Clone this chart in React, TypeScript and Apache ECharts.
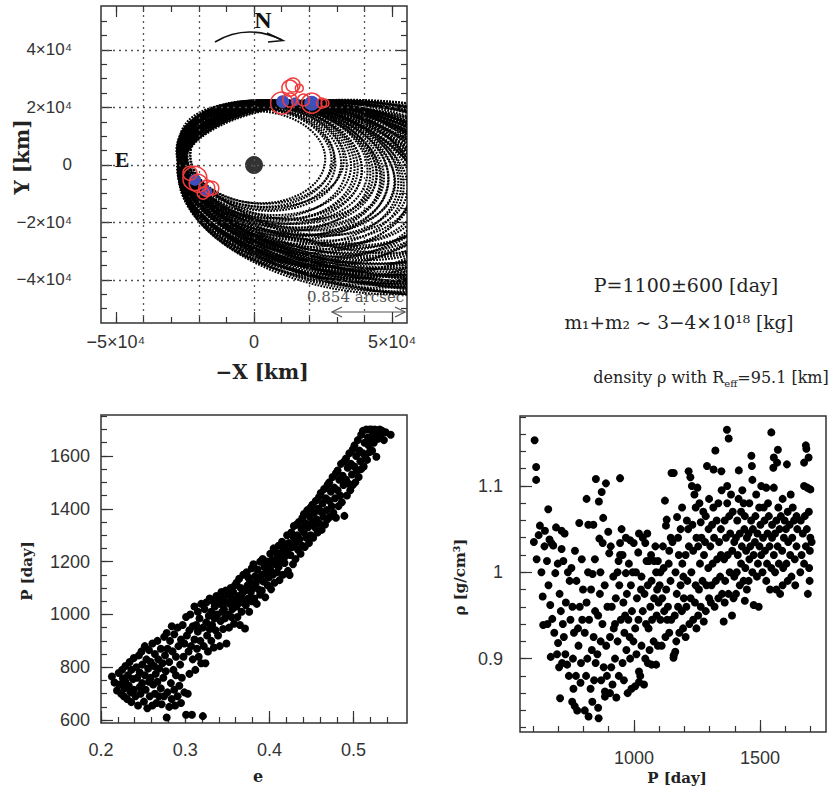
import React, { useEffect, useRef } from "react";
import * as echarts from "echarts";

// ---------- top panel: orbit solutions, [cx, cy, a, b, tiltDeg] in units of 1e4 km ----------
const orbits = [
  [0.13, 0.27, 2.45, 1.6, -3], [0.3, 0.3, 2.6, 1.65, -2], [0.2, 0.25, 2.61, 1.7, -4],
  [0.35, 0.2, 2.81, 1.79, -5], [0.45, 0.1, 2.91, 1.94, -4], [0.5, 0.15, 3.02, 1.88, -6],
  [0.6, 0.1, 3.17, 1.98, -7], [0.7, 0.0, 3.21, 2.04, -5], [0.75, 0.05, 3.38, 2.07, -8],
  [0.9, 0.0, 3.56, 2.15, -9], [0.95, 0.1, 3.54, 1.94, -11], [1.0, -0.2, 3.59, 2.27, -8],
  [1.05, -0.05, 3.69, 2.17, -10], [1.15, -0.25, 3.72, 2.33, -6], [1.2, -0.1, 3.93, 2.26, -11],
  [1.25, -0.05, 3.93, 2.12, -13], [1.35, -0.15, 4.04, 2.24, -12], [1.4, -0.35, 4.05, 2.45, -9],
  [1.5, -0.2, 4.29, 2.31, -13], [1.6, -0.4, 4.23, 2.52, -7], [1.65, -0.3, 4.4, 2.33, -14],
  [1.8, -0.35, 4.66, 2.41, -15], [1.9, -0.5, 4.6, 2.62, -10], [2.0, -0.45, 4.84, 2.41, -16],
  [2.0, -0.3, 4.76, 2.33, -14], [2.1, -0.6, 4.75, 2.75, -8], [2.2, -0.55, 5.12, 2.47, -17],
  [2.3, -0.75, 4.99, 2.84, -11], [2.4, -0.6, 5.33, 2.58, -16], [2.5, -0.5, 5.23, 2.59, -12],
  [2.6, -0.7, 5.54, 2.58, -17], [2.7, -0.7, 5.42, 2.83, -9], [2.8, -0.95, 5.57, 2.99, -12],
  [2.9, -0.8, 5.91, 2.65, -17], [3.0, -0.6, 5.7, 2.67, -11], [3.2, -0.85, 6.2, 2.66, -17],
  [3.3, -1.1, 6.11, 3.14, -12], [3.4, -0.8, 6.1, 2.97, -7], [3.5, -0.7, 6.24, 2.8, -10],
  [3.6, -1.15, 6.49, 3.05, -14], [3.8, -1.0, 6.71, 2.76, -15], [4.0, -0.8, 6.7, 2.9, -9],
  [4.0, -0.95, 6.74, 3.14, -6], [4.2, -1.1, 7.08, 2.97, -13], [4.5, -0.85, 7.22, 2.97, -8],
  [4.8, -1.1, 7.59, 3.1, -10], [5.0, -0.9, 7.7, 3.0, -8], [5.5, -1.0, 8.16, 3.12, -7],
  [0.25, 0.22, 2.7, 1.75, -6], [0.4, 0.25, 2.85, 1.72, -3], [0.55, 0.05, 3.1, 2.0, -5],
  [0.65, 0.12, 3.28, 1.95, -9], [0.8, -0.1, 3.42, 2.2, -6], [0.85, 0.05, 3.5, 2.05, -10],
  [1.0, 0.0, 3.68, 2.1, -12], [1.1, -0.15, 3.8, 2.25, -9], [1.3, -0.3, 3.95, 2.42, -8],
  [1.45, -0.1, 4.2, 2.2, -14], [1.55, -0.45, 4.18, 2.6, -6], [1.7, -0.25, 4.5, 2.28, -16],
  [1.75, -0.55, 4.45, 2.7, -9], [1.85, -0.32, 4.68, 2.3, -17], [1.95, -0.65, 4.62, 2.85, -7],
  [2.05, -0.4, 4.85, 2.5, -13], [2.15, -0.8, 4.85, 2.95, -9], [2.25, -0.48, 5.1, 2.45, -15],
  [2.35, -0.9, 5.05, 3.0, -10], [2.45, -0.45, 5.35, 2.2, -18], [2.55, -0.85, 5.3, 2.95, -12],
  [2.65, -0.62, 5.55, 2.6, -14], [2.75, -1.0, 5.5, 3.05, -11], [2.85, -0.68, 5.75, 2.6, -15],
  [2.95, -1.05, 5.8, 3.05, -13], [3.1, -0.75, 5.95, 2.75, -13], [3.25, -1.0, 6.05, 3.0, -10],
  [3.35, -0.95, 6.3, 2.75, -16], [3.45, -1.2, 6.25, 3.15, -11], [3.55, -0.9, 6.35, 2.9, -8],
  [3.7, -1.1, 6.6, 2.95, -12], [3.9, -0.85, 6.6, 2.95, -7], [4.1, -1.2, 6.95, 3.05, -11],
  [4.3, -0.95, 7.0, 3.0, -7], [4.4, -1.05, 7.2, 3.05, -9], [4.6, -1.2, 7.45, 3.15, -11],
  [4.7, -0.95, 7.4, 3.05, -6], [5.2, -1.05, 7.95, 3.1, -9], [5.8, -1.1, 8.5, 3.2, -8],
];
const primary = [[0, 0]];
// observed positions [x, y] in 1e4 km, with marker size
const bluePts = [[1.04, 2.2, 13], [1.49, 2.2, 9], [2.09, 2.15, 15], [-2.14, -0.52, 12], [-1.71, -0.93, 11]];
const redPts = [
  [1.0, 2.15, 22], [1.3, 2.67, 16], [1.41, 2.78, 14], [1.64, 2.67, 8], [1.3, 2.26, 14],
  [1.79, 2.26, 12], [2.09, 2.15, 20], [2.45, 2.15, 10], [2.57, 2.15, 8],
  [-2.14, -0.47, 24], [-2.02, -0.64, 18], [-1.71, -0.81, 16], [-1.53, -0.81, 14],
  [-1.84, -0.98, 12], [-2.32, -0.29, 14],
];
const gridX = [-40000, -20000, 0, 20000, 40000];
const gridY = [-40000, -20000, 0, 20000, 40000];
const topXMinor = [-50000, -40000, -30000, -20000, -10000, 0, 10000, 20000, 30000, 40000, 50000];
const topXMajor = [-50000, 0, 50000];
const topYMinor = [-50000, -45000, -40000, -35000, -30000, -25000, -20000, -15000, -10000, -5000, 0,
  5000, 10000, 15000, 20000, 25000, 30000, 35000, 40000, 45000, 50000];
const topYMajor = [-40000, -20000, 0, 20000, 40000];

// ---------- bottom-left: e vs P ----------
const eP = [
  [0.213,765],[0.216,742],[0.219,712],[0.221,778],
  [0.222,735],[0.224,700],[0.225,790],[0.226,758],[0.227,690],[0.228,720],[0.229,805],[0.229,745],
  [0.231,680],[0.232,770],[0.233,730],[0.234,820],[0.235,705],[0.236,790],[0.236,668],[0.238,755],[0.239,835],[0.239,715],
  [0.241,690],[0.242,800],[0.243,760],[0.244,655],[0.245,845],[0.246,725],[0.246,780],[0.247,700],[0.248,860],[0.249,740],[0.249,810],
  [0.251,670],[0.252,770],[0.252,880],[0.253,715],[0.254,830],[0.255,645],[0.256,795],[0.257,745],[0.257,865],[0.258,690],[0.259,820],[0.259,760],
  [0.261,655],[0.261,890],[0.262,735],[0.263,805],[0.264,700],[0.264,850],[0.265,775],[0.266,665],[0.267,900],[0.267,745],[0.268,830],[0.269,690],[0.269,795],
  [0.271,720],[0.271,870],[0.272,660],[0.273,815],[0.274,760],[0.275,915],[0.275,690],[0.276,845],[0.277,785],[0.278,610],[0.278,930],[0.279,705],[0.279,870],
  [0.281,650],[0.281,820],[0.282,900],[0.283,740],[0.284,955],[0.284,680],[0.285,860],[0.286,790],[0.287,715],[0.287,925],[0.288,655],[0.289,840],[0.289,770],
  [0.291,690],[0.291,950],[0.292,880],[0.293,730],[0.294,810],[0.295,905],[0.295,665],[0.296,760],[0.297,960],[0.298,840],[0.299,705],[0.299,890],
  [0.301,620],[0.301,990],[0.302,920],[0.303,700],[0.304,860],[0.305,940],[0.305,775],[0.306,1000],[0.307,880],[0.308,620],[0.309,955],[0.309,830],
  [0.311,905],[0.311,1030],[0.312,790],[0.313,960],[0.314,870],[0.315,1010],[0.315,935],[0.316,840],[0.317,985],[0.318,900],[0.319,1040],[0.319,815],
  [0.321,615],[0.321,950],[0.322,880],[0.323,1020],[0.324,815],[0.325,970],[0.325,1045],[0.326,920],[0.327,860],[0.328,995],[0.329,945],[0.329,1060],
  [0.331,900],[0.331,1010],[0.332,960],[0.333,1050],[0.334,875],[0.335,985],[0.335,1030],[0.336,940],[0.337,1070],[0.338,1000],[0.339,920],[0.339,1060],
  [0.341,880],[0.341,1040],[0.342,975],[0.343,1085],[0.344,1010],[0.345,945],[0.345,1060],[0.346,1020],[0.347,985],[0.348,1090],[0.349,890],[0.349,1045],
  [0.351,1000],[0.351,1075],[0.352,950],[0.353,1040],[0.354,1100],[0.355,990],[0.355,1060],[0.356,1020],[0.357,1085],[0.358,965],[0.359,1050],[0.359,1110],
  [0.361,1030],[0.361,1120],[0.362,990],[0.363,1070],[0.364,1135],[0.365,1045],[0.365,960],[0.366,1100],[0.367,1010],[0.368,1080],[0.369,1150],[0.369,1055],
  [0.371,1090],[0.371,947],[0.372,1035],[0.373,1160],[0.374,1110],[0.375,1060],[0.375,1140],[0.376,1010],[0.377,1125],[0.378,1085],[0.379,1175],[0.379,1050],
  [0.381,1100],[0.381,1190],[0.382,1060],[0.383,1145],[0.384,1120],[0.385,1040],[0.386,1170],[0.387,1095],[0.388,1135],[0.389,1200],[0.389,1075],
  [0.391,1150],[0.391,1090],[0.392,1210],[0.393,1125],[0.394,1180],[0.395,1065],[0.396,1160],[0.397,1200],[0.398,1110],[0.399,1185],[0.399,1140],
  [0.401,1170],[0.401,1230],[0.402,1095],[0.403,1205],[0.404,1150],[0.405,1250],[0.406,1120],[0.407,1190],[0.408,1235],[0.409,1160],[0.409,1215],
  [0.411,1180],[0.411,1260],[0.412,1130],[0.413,1230],[0.414,1205],[0.415,1275],[0.416,1150],[0.417,1245],[0.418,1195],[0.419,1265],[0.419,1220],
  [0.421,1240],[0.421,1300],[0.422,1165],[0.423,1270],[0.424,1149],[0.425,1225],[0.426,1310],[0.427,1255],[0.428,1190],[0.429,1290],[0.429,1335],
  [0.431,1270],[0.431,1210],[0.432,1340],[0.433,1300],[0.434,1245],[0.435,1350],[0.436,1285],[0.437,1230],[0.438,1325],[0.439,1365],[0.439,1260],
  [0.441,1310],[0.441,1380],[0.442,1255],[0.443,1345],[0.444,1290],[0.445,1395],[0.446,1330],[0.447,1270],[0.448,1370],[0.449,1405],[0.449,1300],
  [0.451,1350],[0.451,1415],[0.452,1290],[0.453,1385],[0.454,1330],[0.455,1430],[0.456,1360],[0.457,1310],[0.458,1400],[0.459,1445],[0.459,1345],
  [0.461,1390],[0.461,1460],[0.462,1320],[0.463,1420],[0.464,1370],[0.465,1475],[0.466,1340],[0.467,1440],[0.468,1395],[0.469,1490],[0.469,1360],
  [0.471,1430],[0.471,1500],[0.472,1370],[0.473,1465],[0.474,1410],[0.475,1520],[0.476,1385],[0.477,1480],[0.478,1440],[0.479,1535],[0.479,1366],
  [0.481,1470],[0.481,1545],[0.482,1410],[0.483,1510],[0.484,1450],[0.485,1570],[0.486,1425],[0.487,1525],[0.488,1490],[0.489,1580],[0.489,1373],
  [0.491,1510],[0.491,1590],[0.492,1450],[0.493,1555],[0.494,1495],[0.495,1610],[0.496,1470],[0.497,1570],[0.498,1530],[0.499,1625],[0.499,1490],
  [0.501,1560],[0.501,1640],[0.502,1500],[0.503,1600],[0.504,1545],[0.505,1660],[0.506,1520],[0.507,1620],[0.508,1580],[0.509,1680],[0.509,1550],
  [0.511,1610],[0.511,1695],[0.512,1560],[0.513,1650],[0.514,1600],[0.515,1700],[0.516,1585],[0.517,1670],[0.518,1640],[0.519,1700],[0.519,1615],
  [0.521,1660],[0.521,1700],[0.522,1620],[0.523,1690],[0.524,1650],[0.525,1700],[0.526,1675],[0.527,1597],[0.528,1695],[0.529,1665],
  [0.531,1700],[0.532,1680],[0.534,1695],[0.536,1660],[0.538,1690],[0.544,1680],
];
const eMinor = [0.2,0.22,0.24,0.26,0.28,0.3,0.32,0.34,0.36,0.38,0.4,0.42,0.44,0.46,0.48,0.5,0.52,0.54];
const eMajor = [0.2, 0.3, 0.4, 0.5];
const pMinor = [600,650,700,750,800,850,900,950,1000,1050,1100,1150,1200,1250,1300,1350,1400,1450,1500,1550,1600,1650,1700,1750];
const pMajor = [600, 800, 1000, 1200, 1400, 1600];

// ---------- bottom-right: P vs density ----------
const rhoP = [
  [606,1.153],[612,1.122],[612,1.107],[603,1.035],[614,1.015],[627,1.054],[647,1.048],[640,0.939],[633,1.0],[645,1.03],[622,1.043],[638,0.972],
  [660,1.073],[655,1.013],[665,1.038],[672,1.034],[680,1.031],[688,0.999],[691,1.052],[661,0.985],[668,0.962],[676,0.946],[684,0.93],[695,0.905],[699,0.918],[657,0.94],[698,1.01],[670,0.902],
  [707,0.854],[713,1.048],[713,1.027],[720,1.013],[705,0.975],[710,0.955],[718,0.94],[722,0.925],[728,0.905],[735,0.893],[703,0.89],[742,0.88],[730,0.965],[745,0.99],[738,1.0],[715,0.895],[748,0.945],[725,1.045],
  [760,0.865],[755,0.85],[765,0.845],[775,0.84],[783,1.057],[770,0.88],[758,0.9],[780,0.915],[790,0.895],[762,0.93],[785,0.96],[795,0.945],[772,0.99],[752,1.005],[798,0.98],[788,0.872],[766,1.025],[793,1.015],[778,0.935],[756,0.96],
  [812,1.085],[819,1.055],[839,1.055],[845,1.015],[849,1.108],[805,0.84],[820,0.833],[835,0.85],[810,0.88],[828,0.865],[842,0.875],[815,0.9],[833,0.91],[848,0.895],[805,0.93],[822,0.945],[840,0.925],[812,0.965],[830,0.98],[846,0.955],[818,1.0],[836,0.998],
  [861,1.082],[872,1.093],[878,1.063],[889,1.103],[863,1.039],[876,1.034],[898,1.047],[902,1.022],[867,1.0],[860,0.831],[858,0.843],[885,0.862],[885,0.856],[870,0.875],[880,0.89],[893,0.88],[855,0.905],[868,0.92],[890,0.915],[858,0.95],[875,0.94],[895,0.96],[865,0.975],[884,0.985],
  [945,1.109],[951,1.05],[945,1.034],[939,1.013],[945,1.02],[905,0.86],[915,0.87],[930,0.855],[910,0.89],[925,0.9],[940,0.88],[905,0.925],[920,0.935],[935,0.92],[948,0.945],[912,0.96],[928,0.97],[942,0.985],[918,0.995],[935,1.0],[908,1.03],[925,0.94],
  [968,0.999],[968,1.04],[985,1.037],[999,1.034],[960,0.875],[975,0.86],[990,0.865],[955,0.895],[970,0.91],[985,0.9],[998,0.92],[962,0.93],[978,0.945],[992,0.955],[958,0.965],[972,0.975],[988,0.985],[955,1.02],[980,1.01],[995,1.0],[965,0.95],[983,0.925],
  [1008,1.0],[1017,1.023],[1020,1.045],[1035,1.04],[1045,1.034],[1050,1.013],[1005,0.868],[1020,0.873],[1040,0.87],[1020,0.885],[1025,0.88],[1010,0.905],[1030,0.915],[1045,0.9],[1005,0.935],[1018,0.945],[1035,0.955],[1048,0.94],[1012,0.97],[1028,0.98],[1042,0.975],[1030,0.995],
  [1053,1.045],[1060,1.013],[1080,1.013],[1088,1.0],[1095,1.013],[1055,0.895],[1070,0.893],[1088,0.893],[1062,0.91],[1078,0.92],[1095,0.915],[1058,0.935],[1072,0.945],[1090,0.95],[1065,0.96],[1080,0.97],[1098,0.965],[1055,0.985],[1070,0.99],[1085,1.03],[1068,1.02],[1092,0.98],
  [1123,1.083],[1130,1.061],[1127,1.054],[1149,1.115],[1105,1.0],[1115,1.03],[1140,1.025],[1110,0.915],[1125,0.925],[1140,0.93],[1105,0.945],[1120,0.955],[1135,0.96],[1148,0.945],[1112,0.97],[1128,0.98],[1145,0.99],[1118,1.005],[1138,1.01],[1102,0.985],[1132,0.945],[1146,1.04],
  [1153,1.035],[1158,1.115],[1157,0.901],[1164,0.908],[1158,0.904],[1168,0.92],[1180,0.93],[1195,0.935],[1162,0.95],[1175,0.96],[1190,0.955],[1170,0.975],[1185,0.985],[1198,0.97],[1165,1.0],[1178,1.02],[1192,1.01],[1171,1.064],[1191,1.075],[1185,1.05],[1175,1.04],[1196,0.995],
  [1217,1.117],[1210,1.06],[1224,1.11],[1230,1.1],[1240,1.09],[1205,0.925],[1220,0.94],[1235,0.945],[1248,0.935],[1208,0.96],[1225,0.97],[1242,0.965],[1212,0.99],[1228,1.0],[1245,0.985],[1205,1.02],[1218,1.03],[1235,1.025],[1248,1.04],[1215,1.05],[1232,1.055],[1245,1.075],
  [1277,0.943],[1290,1.123],[1260,1.08],[1275,1.07],[1255,0.95],[1265,0.96],[1285,0.955],[1298,0.97],[1258,0.98],[1272,0.99],[1288,0.985],[1262,1.01],[1278,1.02],[1295,1.005],[1255,1.03],[1268,1.04],[1282,1.035],[1296,1.05],[1265,1.058],[1285,1.065],[1252,1.098],[1298,1.085],
  [1316,1.119],[1323,1.141],[1347,1.117],[1305,0.965],[1320,0.96],[1335,0.97],[1350,0.975],[1308,0.985],[1325,0.99],[1342,0.995],[1312,1.01],[1330,1.015],[1345,1.02],[1303,1.03],[1318,1.04],[1338,1.035],[1310,1.055],[1328,1.06],[1345,1.05],[1315,1.075],[1335,1.08],[1348,1.095],
  [1356,0.943],[1369,1.165],[1376,1.155],[1389,0.95],[1370,1.1],[1385,1.09],[1360,0.965],[1375,0.975],[1395,0.97],[1362,0.99],[1380,1.0],[1398,0.995],[1358,1.015],[1372,1.02],[1390,1.025],[1365,1.04],[1382,1.045],[1398,1.035],[1360,1.06],[1378,1.065],[1392,1.07],[1370,1.08],
  [1416,1.118],[1430,1.095],[1440,0.967],[1405,0.975],[1420,0.985],[1435,0.99],[1448,0.98],[1408,1.0],[1425,1.01],[1442,1.005],[1412,1.02],[1428,1.03],[1445,1.025],[1405,1.04],[1420,1.045],[1438,1.05],[1448,1.04],[1410,1.06],[1425,1.07],[1440,1.065],[1415,1.085],[1435,1.08],
  [1466,1.135],[1468,1.123],[1470,1.107],[1475,0.962],[1495,0.96],[1455,0.99],[1470,1.0],[1488,0.995],[1458,1.015],[1475,1.02],[1492,1.01],[1462,1.03],[1480,1.035],[1498,1.03],[1455,1.045],[1472,1.05],[1490,1.045],[1465,1.06],[1482,1.065],[1497,1.075],[1458,1.08],[1485,1.09],
  [1545,1.162],[1555,1.133],[1553,1.121],[1540,0.98],[1505,1.1],[1525,1.098],[1510,1.0],[1528,1.01],[1545,1.005],[1505,1.02],[1520,1.025],[1538,1.03],[1512,1.04],[1530,1.045],[1548,1.04],[1502,1.055],[1518,1.06],[1535,1.065],[1548,1.055],[1515,1.075],[1532,1.08],[1525,0.99],
  [1568,1.127],[1571,1.142],[1555,1.098],[1565,0.98],[1580,0.975],[1590,0.985],[1560,1.0],[1575,1.01],[1592,1.005],[1555,1.02],[1570,1.03],[1588,1.025],[1560,1.045],[1578,1.05],[1595,1.04],[1565,1.06],[1583,1.065],[1598,1.06],[1573,1.075],[1590,1.085],
  [1607,1.125],[1610,0.99],[1625,0.995],[1640,0.985],[1605,1.01],[1620,1.02],[1638,1.015],[1612,1.035],[1628,1.04],[1645,1.03],[1603,1.05],[1618,1.055],[1635,1.06],[1648,1.05],[1610,1.07],[1630,1.075],[1645,1.065],[1622,1.09],
  [1675,1.127],[1682,1.147],[1684,1.143],[1693,1.133],[1675,1.1],[1688,1.098],[1700,1.096],[1690,0.975],[1697,0.99],[1660,1.0],[1675,1.01],[1695,1.005],[1665,1.02],[1682,1.03],[1698,1.025],[1670,1.045],[1686,1.05],[1700,1.04],[1662,1.06],[1678,1.065],[1694,1.07],[1705,1.035],
];
const p2Minor = [600,700,800,900,1000,1100,1200,1300,1400,1500,1600,1700];
const p2Major = [1000, 1500];
const rhoMinor = [0.82,0.84,0.86,0.88,0.9,0.92,0.94,0.96,0.98,1.0,1.02,1.04,1.06,1.08,1.1,1.12,1.14,1.16,1.18];
const rhoMajor = [0.9, 1.0, 1.1];

const SANS = "Liberation Sans";
const SERIF = "DejaVu Serif";

function axis(kind: "x" | "y", gridIndex: number, position: string, min: number, max: number,
  ticks: number[], len: number, labels: number[] | null, fmt?: (v: number) => string,
  fontSize = 18, margin = 10) {
  return {
    type: "value", gridIndex, position, min, max,
    axisLine: { show: false, onZero: false },
    splitLine: { show: false },
    axisTick: { show: true, inside: true, length: len, customValues: ticks, lineStyle: { color: "#333", width: 1.2 } },
    axisLabel: labels
      ? { show: true, customValues: labels, formatter: fmt, fontSize, fontFamily: SANS, color: "#333", margin }
      : { show: false },
  };
}

const fmtTop = (v: number) => (v === 0 ? "0" : (v < 0 ? "−" : "") + Math.abs(v / 10000) + "×10⁴");

const centered = { align: "center", verticalAlign: "middle", textAlign: "center", textVerticalAlign: "middle" };

export default function App() {
  const ref = useRef<HTMLDivElement>(null);
  useEffect(() => {
    const chart = echarts.init(ref.current!, null, { renderer: "svg" });
    const XR = 55400, YMIN = -55000, YMAX = 55300;
    const option: any = {
      animation: false,
      backgroundColor: "#fff",
      grid: [
        { left: 101, top: 6, width: 306, height: 317, show: true, borderColor: "#333", borderWidth: 1.5 },
        { left: 101, top: 415, width: 306, height: 308, show: true, borderColor: "#333", borderWidth: 1.5 },
        { left: 520, top: 416, width: 306, height: 316, show: true, borderColor: "#333", borderWidth: 1.5 },
      ],
      xAxis: [
        axis("x", 0, "bottom", -XR, XR, topXMinor, 6, null),
        axis("x", 0, "bottom", -XR, XR, topXMajor, 11, topXMajor, fmtTop, 18, 10),
        axis("x", 0, "top", -XR, XR, topXMinor, 6, null),
        axis("x", 0, "top", -XR, XR, topXMajor, 11, null),
        axis("x", 1, "bottom", 0.2, 0.5634, eMinor, 6, null),
        axis("x", 1, "bottom", 0.2, 0.5634, eMajor, 12, eMajor, (v: number) => v.toFixed(1), 18, 18),
        axis("x", 2, "bottom", 548, 1762, p2Minor, 6, null),
        axis("x", 2, "bottom", 548, 1762, p2Major, 12, p2Major, (v: number) => String(v), 18, 17),
      ],
      yAxis: [
        axis("y", 0, "left", YMIN, YMAX, topYMinor, 6, null),
        axis("y", 0, "left", YMIN, YMAX, topYMajor, 11, topYMajor, fmtTop, 17, 29),
        axis("y", 0, "right", YMIN, YMAX, topYMinor, 6, null),
        axis("y", 0, "right", YMIN, YMAX, topYMajor, 11, null),
        axis("y", 1, "left", 589, 1755, pMinor, 6, null),
        axis("y", 1, "left", 589, 1755, pMajor, 12, pMajor, (v: number) => String(v), 18, 11),
        axis("y", 2, "left", 0.815, 1.181, rhoMinor, 6, null),
        axis("y", 2, "left", 0.815, 1.181, rhoMajor, 12, rhoMajor, (v: number) => String(v), 18, 17),
      ],
      series: [
        {
          type: "scatter", xAxisIndex: 0, yAxisIndex: 0, data: [], z: 1, silent: true,
          markLine: {
            silent: true, symbol: ["none", "none"], label: { show: false },
            lineStyle: { color: "#555", width: 1.3, type: [2, 4] },
            data: [...gridX.map((v) => ({ xAxis: v })), ...gridY.map((v) => ({ yAxis: v }))],
          },
        },
        {
          type: "custom", xAxisIndex: 0, yAxisIndex: 0, z: 2, clip: true, silent: true,
          data: orbits.map((o) => [o[0] * 1e4, o[1] * 1e4, o[2] * 1e4, o[3] * 1e4, o[4]]),
          encode: { x: 0, y: 1 },
          renderItem: (params: any, api: any) => {
            const c = api.coord([api.value(0), api.value(1)]);
            const s = api.size([api.value(2), api.value(3)]);
            return {
              type: "ellipse", x: c[0], y: c[1], rotation: (api.value(4) * Math.PI) / 180,
              shape: { cx: 0, cy: 0, rx: s[0], ry: s[1] },
              style: { fill: "none", stroke: "#000", lineWidth: 2.1, lineDash: [1.8, 1.2] },
            };
          },
        },
        {
          type: "scatter", xAxisIndex: 0, yAxisIndex: 0, z: 3, silent: true,
          data: primary, symbolSize: 18, itemStyle: { color: "#000" },
        },
        {
          type: "scatter", xAxisIndex: 0, yAxisIndex: 0, z: 4, silent: true,
          data: bluePts.map((p) => [p[0] * 1e4, p[1] * 1e4, p[2]]),
          symbolSize: (v: number[]) => v[2], itemStyle: { color: "#3d4fbf", opacity: 1 },
        },
        {
          type: "scatter", xAxisIndex: 0, yAxisIndex: 0, z: 5, silent: true,
          data: redPts.map((p) => [p[0] * 1e4, p[1] * 1e4, p[2]]),
          symbolSize: (v: number[]) => v[2],
          itemStyle: { color: "rgba(0,0,0,0)", borderColor: "#ef3b3b", borderWidth: 1.5, opacity: 1 },
        },
        {
          type: "scatter", xAxisIndex: 4, yAxisIndex: 4, data: eP, symbolSize: 8,
          itemStyle: { color: "#000", opacity: 1 }, silent: true,
        },
        {
          type: "scatter", xAxisIndex: 6, yAxisIndex: 6, data: rhoP, symbolSize: 8,
          itemStyle: { color: "#000", opacity: 1 }, silent: true,
        },
      ],
      graphic: [
        { type: "text", x: 263, y: 20, style: { text: "N", fontSize: 24, fontWeight: "bold", fontFamily: "Liberation Serif", fill: "#111", ...centered } },
        { type: "bezierCurve", shape: { x1: 215, y1: 42, x2: 282, y2: 40, cpx1: 238, cpy1: 28, cpx2: 262, cpy2: 30 }, style: { stroke: "#111", lineWidth: 1.6, fill: "none" } },
        { type: "polyline", shape: { points: [[267, 33], [283, 40.5], [268, 42]] }, style: { stroke: "#111", lineWidth: 1.5, fill: "none" } },
        { type: "text", x: 122, y: 159, style: { text: "E", fontSize: 22, fontWeight: "bold", fontFamily: "Liberation Serif", fill: "#111", ...centered } },
        { type: "text", x: 307, y: 297, style: { text: "0.854 arcsec", fontSize: 15, fontFamily: SERIF, fill: "#555", align: "left", verticalAlign: "middle", textAlign: "left", textVerticalAlign: "middle" } },
        { type: "line", shape: { x1: 332, y1: 312, x2: 405, y2: 312 }, style: { stroke: "#555", lineWidth: 1.2 } },
        { type: "polyline", shape: { points: [[342, 307], [332, 312], [342, 317]] }, style: { stroke: "#555", lineWidth: 1.2, fill: "none" } },
        { type: "polyline", shape: { points: [[395, 307], [405, 312], [395, 317]] }, style: { stroke: "#555", lineWidth: 1.2, fill: "none" } },
        { type: "text", x: 22, y: 157, rotation: Math.PI / 2, style: { text: "Y [km]", fontSize: 20, fontWeight: "bold", fontFamily: SERIF, fill: "#222", ...centered } },
        { type: "text", x: 262, y: 372, style: { text: "−X [km]", fontSize: 20, fontWeight: "bold", fontFamily: SERIF, fill: "#222", ...centered } },
        { type: "text", x: 686, y: 285, style: { text: "P=1100±600 [day]", fontSize: 19, fontFamily: SERIF, fill: "#222", ...centered } },
        { type: "text", x: 679, y: 322, style: { text: "m₁+m₂ ~ 3−4×10¹⁸ [kg]", fontSize: 18.5, fontFamily: SERIF, fill: "#222", ...centered } },
        {
          type: "text", x: 711, y: 377,
          style: {
            text: "{a|density ρ with R}{b|eff}{a|=95.1 [km]}", ...centered,
            rich: {
              a: { fontSize: 16, fontFamily: SERIF, fill: "#222", color: "#222", lineHeight: 22 },
              b: { fontSize: 10, fontFamily: SERIF, fill: "#222", color: "#222", lineHeight: 12, verticalAlign: "bottom" },
            },
          },
        },
        { type: "text", x: 27, y: 571, rotation: Math.PI / 2, style: { text: "P [day]", fontSize: 15, fontWeight: "bold", fontFamily: SERIF, fill: "#222", ...centered } },
        { type: "text", x: 258, y: 776, style: { text: "e", fontSize: 16, fontWeight: "bold", fontFamily: SERIF, fill: "#222", ...centered } },
        { type: "text", x: 460, y: 577, rotation: Math.PI / 2, style: { text: "ρ [g/cm³]", fontSize: 15, fontWeight: "bold", fontFamily: SERIF, fill: "#222", ...centered } },
        { type: "text", x: 677, y: 778, style: { text: "P [day]", fontSize: 15, fontWeight: "bold", fontFamily: SERIF, fill: "#222", ...centered } },
      ],
    };
    chart.setOption(option);
    return () => chart.dispose();
  }, []);
  return <div ref={ref} style={{ position: "absolute", left: 0, top: 0, width: 830, height: 791 }} />;
}
